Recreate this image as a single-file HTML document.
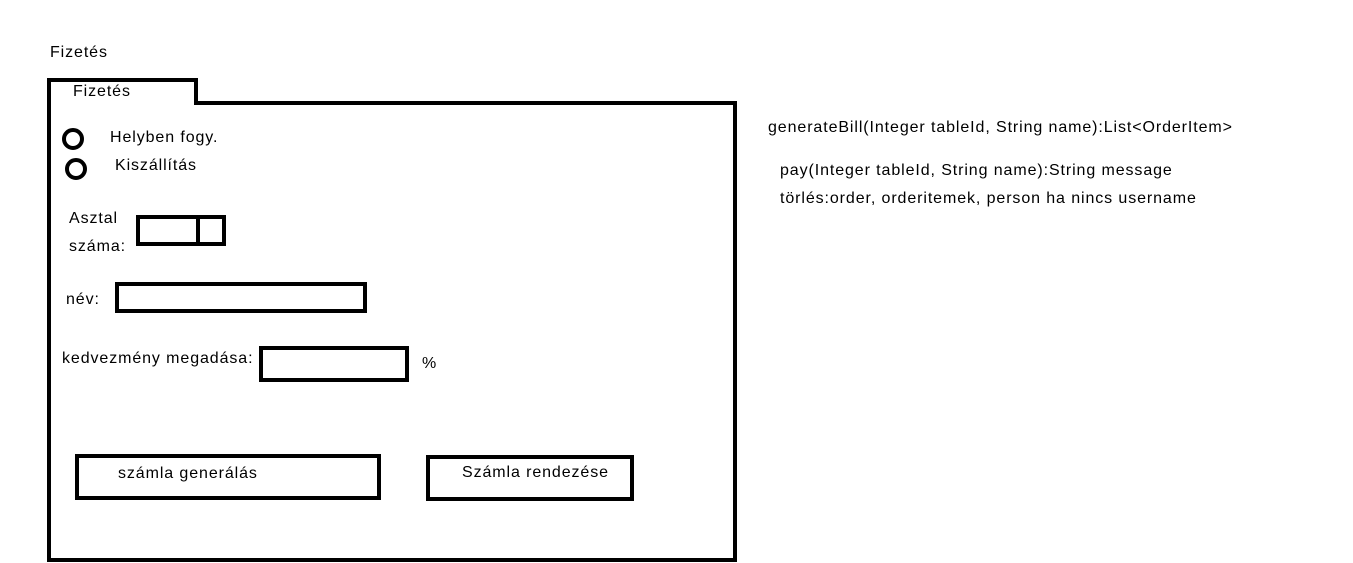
<!DOCTYPE html>
<html><head><meta charset="utf-8"><style>
body{margin:0;width:1353px;height:563px;background:#fff;position:relative;overflow:hidden;font-family:"Liberation Sans",sans-serif;font-size:16px;letter-spacing:0.9px;color:#000}
.b{position:absolute;background:#000}
.box{position:absolute;border:4px solid #000;box-sizing:border-box}
.r{position:absolute;width:22px;height:22px;border:4px solid #000;border-radius:50%;box-sizing:border-box}
.t{position:absolute;white-space:nowrap}
</style></head><body>
<div class="t" style="left:50px;top:44px">Fizetés</div>
<div class="b" style="left:47px;top:78px;width:151px;height:4px"></div>
<div class="b" style="left:194px;top:78px;width:4px;height:27px"></div>
<div class="b" style="left:47px;top:78px;width:4px;height:484px"></div>
<div class="b" style="left:194px;top:101px;width:543px;height:4px"></div>
<div class="b" style="left:733px;top:101px;width:4px;height:461px"></div>
<div class="b" style="left:47px;top:558px;width:690px;height:4px"></div>
<div class="t" style="left:73px;top:83px">Fizetés</div>
<div class="r" style="left:62px;top:128px"></div>
<div class="r" style="left:65px;top:158px"></div>
<div class="t" style="left:110px;top:129px">Helyben fogy.</div>
<div class="t" style="left:115px;top:157px">Kiszállítás</div>
<div class="t" style="left:69px;top:210px">Asztal</div>
<div class="t" style="left:69px;top:238px">száma:</div>
<div class="box" style="left:136px;top:215px;width:90px;height:31px"></div>
<div class="b" style="left:196px;top:215px;width:4px;height:31px"></div>
<div class="t" style="left:66px;top:291px">név:</div>
<div class="box" style="left:115px;top:282px;width:252px;height:31px"></div>
<div class="t" style="left:62px;top:350px">kedvezmény megadása:</div>
<div class="box" style="left:259px;top:346px;width:150px;height:36px"></div>
<div class="t" style="left:422px;top:355px">%</div>
<div class="box" style="left:75px;top:454px;width:306px;height:46px"></div>
<div class="t" style="left:118px;top:465px">számla generálás</div>
<div class="box" style="left:426px;top:455px;width:208px;height:46px"></div>
<div class="t" style="left:462px;top:464px">Számla rendezése</div>
<div class="t" style="left:768px;top:119px">generateBill(Integer tableId, String name):List&lt;OrderItem&gt;</div>
<div class="t" style="left:780px;top:162px">pay(Integer tableId, String name):String message</div>
<div class="t" style="left:780px;top:190px">törlés:order, orderitemek, person ha nincs username</div>
</body></html>
